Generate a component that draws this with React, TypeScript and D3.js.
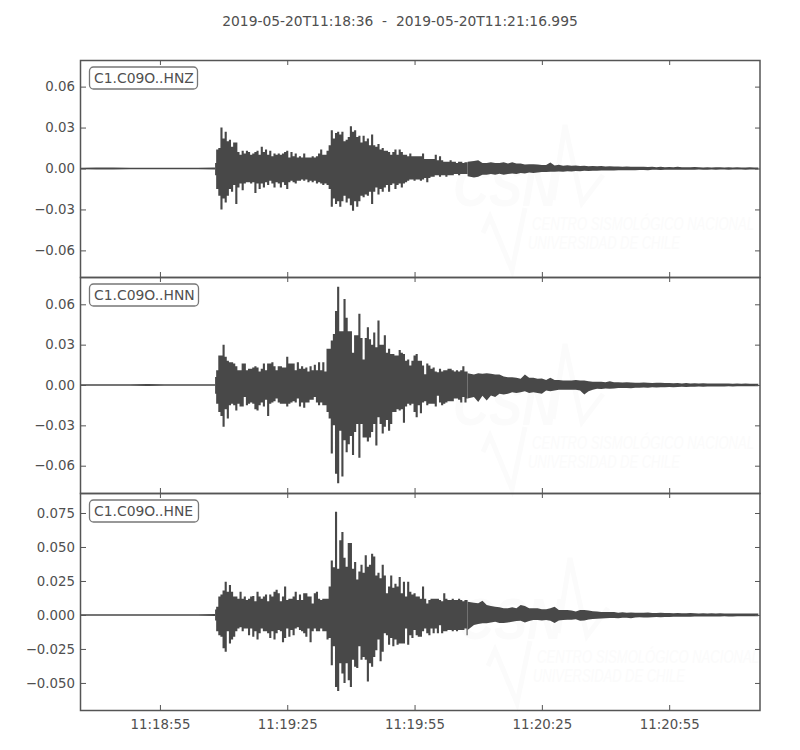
import React, { useEffect, useRef } from "react";
import * as d3 from "d3";

// amplitudes below are in units of 0.001
const titleText = "2019-05-20T11:18:36  -  2019-05-20T11:21:16.995";
const stationLabels = ["C1.C09O..HNZ", "C1.C09O..HNN", "C1.C09O..HNE"];
const timeTicks = ["11:18:55", "11:19:25", "11:19:55", "11:20:25", "11:20:55"];

const yDomains = [[-0.0795, 0.0795], [-0.0803, 0.0803], [-0.0699, 0.0897]];
const yTicks = [
  [-0.06, -0.03, 0, 0.03, 0.06],
  [-0.06, -0.03, 0, 0.03, 0.06],
  [-0.05, -0.025, 0, 0.025, 0.05, 0.075],
];
const yFormats = [".2f", ".2f", ".3f"];

// quiet part before the first arrival, one value every 4 s from 11:18:36
const hnzQuiet = [0.6, 0.7, 0.7, 0.6, 0.5, 0.5, 0.5, 0.6, 0.7];
const hnnQuiet = [0.6, 0.6, 0.5, 0.6, 0.7, 0.5, 0.5, 0.6, 0.6];
const hneQuiet = [0.5, 0.5, 0.5, 0.5, 0.5, 0.6, 0.5, 0.6, 0.7];

// strong motion, one value every 0.5 s from 11:19:08
const hnzUp = [
  4, 14, 15, 30, 22, 27, 20, 21, 16, 19,
  19, 12, 10, 13, 11, 13, 12, 10, 11, 12,
  13, 10, 16, 12, 14, 10, 13, 9, 11, 10,
  11, 10, 11, 12, 13, 8, 12, 9, 11, 8,
  9, 8, 11, 8, 8, 8, 9, 8, 9, 11,
  14, 10, 10, 13, 17, 28, 22, 26, 27, 25,
  27, 20, 21, 23, 31, 27, 28, 23, 24, 19,
  24, 20, 22, 17, 25, 17, 16, 18, 14, 15,
  13, 13, 12, 10, 12, 14, 10, 14, 12, 10,
  10, 9, 11, 9, 9, 9, 9, 9, 11, 7,
  7, 7, 7, 7, 10, 6, 9, 6, 5, 5,
  5, 6, 5, 5, 4, 5, 5, 4, 4.5, 4.5,
];
const hnzLow = [
  5, 15, 20, 30, 22, 25, 20, 15, 17, 12,
  26, 14, 11, 16, 11, 10, 10, 11, 10, 18,
  11, 15, 11, 14, 10, 12, 9, 11, 14, 10,
  11, 14, 10, 12, 15, 10, 9, 10, 11, 9,
  9, 8, 9, 8, 10, 9, 10, 9, 11, 10,
  11, 12, 11, 12, 15, 28, 22, 26, 24, 28,
  24, 20, 25, 22, 27, 31, 24, 28, 24, 20,
  21, 19, 20, 17, 26, 17, 14, 19, 15, 17,
  14, 12, 17, 12, 11, 15, 12, 11, 14, 11,
  10, 9, 8, 8, 9, 8, 8, 9, 8, 7,
  10, 7, 6, 6, 5, 5, 6, 5, 5, 6,
  5, 5, 5, 4, 4, 5, 4, 4, 4, 4,
];
const hnnUp = [
  6, 11, 22, 22, 30, 21, 18, 17, 17, 16,
  14, 11, 11, 16, 16, 11, 12, 12, 13, 14,
  13, 10, 12, 16, 11, 16, 16, 17, 14, 11,
  14, 14, 13, 13, 21, 16, 16, 16, 11, 17,
  12, 14, 12, 13, 10, 14, 11, 15, 11, 17,
  11, 17, 10, 27, 27, 33, 38,
  55, 73, 40, 40, 64, 50, 40, 40, 24, 37,
  37, 53, 35, 19, 35, 43, 34, 30, 39, 28,
  48, 30, 30, 37, 24, 27, 23, 23, 22, 22,
  26, 24, 23, 18, 19, 14.5, 18, 22, 23, 18,
  18, 14.5, 8, 16, 14.5, 12, 13, 10, 9.5, 12,
  10, 11, 11, 12, 12, 11,
  10, 11, 10, 11, 14, 10, 10,
];
const hnnLow = [
  6.5, 14, 20, 23, 31, 18, 25, 15, 14, 15,
  19, 14, 16, 16, 9, 15, 14, 13, 14, 18,
  19, 15, 13, 16, 11, 23, 14, 13, 12, 10,
  13, 14, 14, 14, 16, 14, 13, 12, 13, 10,
  16, 13, 17, 13, 13, 11, 11, 9, 13, 15,
  13, 15, 15, 20, 25, 51, 30,
  66, 73, 34, 68, 41, 50, 44, 38, 52, 35,
  29, 54, 29, 39, 39, 42, 39, 35, 29, 45,
  24, 29, 36, 31, 26, 34, 29, 20, 20, 18,
  19, 18, 28, 16, 14, 15, 14, 20, 24, 15,
  21, 13, 12, 15, 14, 14, 14, 16, 8, 13,
  15, 14, 13, 12, 12, 12,
  10, 10, 11, 13, 9, 13, 10,
];
const hneUp = [
  4, 6, 13.5, 15, 18, 24.5, 17, 22, 17, 13.5,
  13.5, 12, 17, 12, 13.5, 11, 12, 13.5, 14, 10,
  17, 13.5, 12, 13.5, 15, 10, 15, 13.5, 17, 18.5,
  16, 10, 13.5, 21, 11, 12, 12, 13.5, 17, 11,
  15, 11, 16, 16, 13.5, 13.5, 8.5, 16, 17, 12,
  11, 12, 12, 12, 21, 40, 35,
  76, 34, 55, 61, 42, 35.5, 53, 53, 34, 39,
  26, 32, 37, 31, 44, 35.5, 37, 45, 43, 29,
  31, 27, 37, 29, 16, 21, 29, 20, 23, 21,
  28, 16, 24.5, 13.5, 24.5, 17, 15, 16, 13.5, 13.5,
  12, 21, 12, 8.5, 11, 12, 12, 12, 12, 11,
  10, 16, 12, 11, 11, 12,
  11, 11, 12, 11, 10, 11, 11,
];
const hneLow = [
  4, 12, 15, 16, 24.5, 27, 12, 21, 18, 16,
  12, 10, 9, 12, 10, 10, 15, 10, 16, 12,
  18, 13.5, 10, 12, 12, 13.5, 17, 12, 18, 13.5,
  11, 12, 20, 17, 10, 16, 11, 15, 10, 9,
  11, 12, 13.5, 16, 10, 20, 12, 10, 12, 12,
  10, 12, 12, 18, 17, 37, 23,
  53, 56, 35.5, 43, 50, 35.5, 48, 53, 33, 38,
  39, 23, 33, 31, 33, 49, 35.5, 38, 31, 26,
  18, 34, 27, 13.5, 15, 22, 17, 23, 18, 22,
  21, 21, 21, 10, 22, 15, 17, 11, 15, 16,
  16, 12, 10, 13.5, 15, 10, 13.5, 10, 13.5, 7.5,
  13.5, 12, 12, 11, 11, 12,
  11, 12, 11, 11, 11, 10, 15,
];

// coda, one value every 1 s from 11:20:08
const hnzTailUp = [
  5, 5.5, 6, 4, 4, 4.5, 4, 4, 4.5, 3.7,
  4.5, 3.7, 3.7, 3, 3.2, 3.2, 3, 2.5, 2.5, 4.4,
  2.2, 2.8, 2, 2.4, 2, 2.2, 1.8, 2, 1.7, 1.9,
  1.6, 1.8, 1.5, 1.6, 1.4, 1.5, 1.3, 1.4, 1.2, 1.3,
  1.2, 1.2, 1.1, 1.3, 1, 1.2, 1, 1.1, 1, 1.2,
  0.9, 1, 0.9, 1.1, 0.9, 0.8, 1, 0.8, 0.9, 1,
  0.8, 0.9, 0.8, 1, 0.8, 0.8, 0.9, 0.8, 0.8,
];
const hnzTailLow = [
  5.6, 6.6, 6, 4.5, 4.5, 4, 4.5, 3.8, 4.5, 4,
  3.6, 4, 3.3, 3.7, 3, 3.3, 3, 2.6, 2.5, 2.4,
  2.4, 2.2, 2.4, 2, 2.2, 1.8, 2, 1.7, 1.8, 1.6,
  1.6, 1.5, 1.5, 1.4, 1.4, 1.3, 1.3, 1.2, 1.2, 1.2,
  1.1, 1.1, 1.2, 1, 1, 1.1, 1, 0.9, 1, 1,
  0.9, 0.9, 1, 0.9, 0.8, 0.9, 0.9, 0.8, 0.9, 0.8,
  0.8, 0.9, 0.8, 0.8, 0.8, 0.9, 0.8, 0.8, 0.8,
];
const hnnTailUp = [
  8.8, 7.8, 8.8, 8.3, 8.8, 8.3, 7.8, 7.8, 6.3, 5.8,
  5.8, 5.3, 4.6, 7.8, 5.3, 5.3, 4.6, 4.8, 3.8, 5.3,
  3.8, 3.8, 3.3, 3.3, 3.3, 3.8, 3.3, 3.3, 2.8, 2.4,
  2.4, 2.4, 2.1, 2.8, 2.1, 2.1, 1.8, 2, 1.8, 1.7,
  1.6, 1.8, 1.6, 1.5, 1.6, 1.7, 1.4, 1.5, 1.3, 1.4,
  1.2, 1.4, 1.2, 1.3, 1.1, 1.3, 1.2, 1.2, 1.1, 1.2,
  1.1, 1.1, 1, 1.2, 1, 1.1, 1, 1, 1,
];
const hnnTailLow = [
  10, 9, 12.7, 8, 11.5, 7.8, 9, 6.5, 7, 6.5,
  5.3, 6, 5.3, 4.6, 6, 5.3, 6, 6.5, 4, 4.6,
  4, 3.6, 3.6, 3.6, 3.6, 3.6, 4, 7, 4.6, 3.6,
  2.8, 3, 2.6, 2.8, 2.6, 2.3, 2.3, 2.2, 2.4, 2,
  2, 1.8, 2, 1.7, 1.8, 1.6, 1.6, 1.5, 1.6, 1.4,
  1.3, 1.5, 1.3, 1.3, 1.2, 1.3, 1.1, 1.2, 1.1, 1.1,
  1.1, 1, 1.1, 1, 1, 1, 1, 1, 1,
];
const hneTailUp = [
  9.8, 9, 8.6, 10.5, 7.4, 6.6, 6, 5.6, 4.9, 4.9,
  5.6, 4.9, 7.4, 6.6, 4.9, 4.9, 4.9, 4.2, 4.2, 4.9,
  6, 3.7, 3.7, 3.7, 3.2, 2.5, 3.7, 3.7, 3.2, 2.7,
  2.5, 2.2, 2.2, 2.2, 2.2, 1.7, 2, 1.7, 1.9, 1.7,
  1.7, 1.6, 1.8, 1.5, 1.4, 1.6, 1.4, 1.4, 1.3, 1.5,
  1.3, 1.2, 1.4, 1.2, 1.1, 1.3, 1.1, 1.2, 1.1, 1.2,
  1, 1.1, 1, 1.1, 1, 1, 1, 1, 1,
];
const hneTailLow = [
  11, 7.4, 6.6, 6.1, 6.1, 5.5, 5, 6, 6, 5.5,
  5, 4.5, 4.2, 5.6, 4.5, 3.7, 3.7, 4.1, 3.7, 4.2,
  6, 4, 3.7, 3.6, 3.5, 3.2, 4.2, 4, 3.4, 3,
  2.8, 2.6, 2.4, 2.3, 2.2, 2.4, 2.1, 2, 2.4, 1.9,
  1.7, 1.8, 1.9, 1.6, 1.5, 1.6, 1.5, 1.5, 1.4, 1.3,
  1.3, 1.4, 1.3, 1.2, 1.2, 1.2, 1.1, 1.2, 1.1, 1.1,
  1, 1.1, 1.1, 1, 1, 1, 1, 1, 1,
];

const quiet = [hnzQuiet, hnnQuiet, hneQuiet];
const ups = [hnzUp, hnnUp, hneUp];
const lows = [hnzLow, hnnLow, hneLow];
const tailUps = [hnzTailUp, hnnTailUp, hneTailUp];
const tailLows = [hnzTailLow, hnnTailLow, hneTailLow];

const ink = "#484848";
const textInk = "#505050";
const markInk = "#fbfbfb";
const font = "'DejaVu Sans', sans-serif";
const panelTops = [60, 277, 493];
const panelBottoms = [277, 493, 710];
const left = 81;
const right = 760;

const at = (sec: number) => new Date(Date.UTC(2019, 4, 20, 11, 18, 36) + sec * 1000);
const parseTick = (s: string) => new Date(`2019-05-20T${s}Z`);

const drawChart = (node: SVGSVGElement) => {
  const svg = d3.select(node);
  svg.selectAll("*").remove();

  const x = d3.scaleUtc().domain([at(0.4), at(160.4)]).range([left, right]);

  svg
    .append("text")
    .attr("x", 400)
    .attr("y", 26)
    .attr("text-anchor", "middle")
    .style("white-space", "pre")
    .attr("fill", textInk)
    .attr("font-family", font)
    .attr("font-size", 13.85)
    .text(titleText);

  svg
    .append("defs")
    .selectAll("clipPath")
    .data(panelTops)
    .join("clipPath")
    .attr("id", (_, i) => `panel${i}`)
    .append("rect")
    .attr("x", left)
    .attr("y", (d) => d)
    .attr("width", right - left)
    .attr("height", (_, i) => panelBottoms[i] - panelTops[i]);

  // squeezes a watermark text to the width it has in the picture
  const squeezed = (
    parent: d3.Selection<SVGGElement, unknown, null, undefined>,
    t: string,
    tx: number,
    ty: number,
    width: number,
    size: number,
    weight: string
  ) => {
    const el = parent
      .append("text")
      .attr("font-family", "'Liberation Sans', sans-serif")
      .attr("font-style", "italic")
      .attr("font-weight", weight)
      .attr("font-size", size)
      .attr("fill", markInk)
      .text(t);
    const natural = (el.node() as SVGTextElement).getComputedTextLength();
    el.attr("transform", `translate(${tx},${ty}) scale(${width / natural},1)`);
  };

  panelTops.forEach((top, p) => {
    const bottom = panelBottoms[p];
    const y = d3.scaleLinear().domain(yDomains[p]).range([bottom, top]);
    const g = svg.append("g");

    // faint agency watermark behind the trace
    const mark = g
      .append("g")
      .attr("transform", `translate(${p === 2 ? 5 : 0},${top - 60 + (p === 1 ? 2 : 0)})`);
    squeezed(mark, "CSN", 453, 206, 105, 57, "bold");
    mark
      .append("path")
      .attr("d", "M553 200L565 125L582 203L603 175M483 233L490 217L512 270L525 208")
      .attr("fill", "none")
      .attr("stroke", markInk)
      .attr("stroke-width", 5);
    squeezed(mark, "CENTRO SISMOLÓGICO NACIONAL", 532, 230, 222, 18, "normal");
    squeezed(mark, "UNIVERSIDAD DE CHILE", 528, 249, 152, 18, "normal");

    const plot = g.append("g").attr("clip-path", `url(#panel${p})`);

    // before the arrival
    const quietBand = d3
      .area<number>()
      .x((_, i) => x(at(i * 4)))
      .y0((d) => y(-d * 0.001))
      .y1((d) => y(d * 0.001));
    plot.append("path").attr("d", quietBand(quiet[p])).attr("fill", ink);

    // strong motion as a stepped min/max envelope
    const strong = d3
      .area<number>()
      .curve(d3.curveStep)
      .x((_, i) => x(at(32 + i * 0.5)))
      .y0((d, i) => y(-(lows[p][i] ?? d) * 0.001))
      .y1((d) => y(d * 0.001));
    plot.append("path").attr("d", strong(ups[p])).attr("fill", ink);

    // coda, its first point joins the last strong motion sample
    const tail = d3
      .area<number>()
      .x((_, i) => x(at(i === 0 ? 91.5 : 92 + i)))
      .y0((_, i) => y(-tailLows[p][i] * 0.001))
      .y1((d) => y(d * 0.001));
    plot.append("path").attr("d", tail(tailUps[p])).attr("fill", ink);

    // axes, all ticks point inward like the old matplotlib style
    const tv = timeTicks.map(parseTick);
    const styleAxis = (a: d3.Selection<SVGGElement, unknown, null, undefined>) => {
      a.select(".domain").remove();
      a.selectAll("line").attr("stroke", "#555").attr("stroke-width", 1);
      a.selectAll("text").attr("fill", textInk).attr("font-family", font).attr("font-size", 13.33);
    };
    const yFmt = d3.format(yFormats[p]);
    g.append("g")
      .attr("transform", `translate(${left},0)`)
      .call(
        d3
          .axisLeft(y)
          .tickValues(yTicks[p])
          .tickSizeInner(-5)
          .tickPadding(6)
          .tickFormat((d) => yFmt(d as number))
      )
      .call(styleAxis);
    g.append("g")
      .attr("transform", `translate(${right},0)`)
      .call(d3.axisRight(y).tickValues(yTicks[p]).tickSizeInner(-5).tickFormat(() => ""))
      .call(styleAxis);
    g.append("g")
      .attr("transform", `translate(0,${top})`)
      .call(d3.axisTop(x).tickValues(tv).tickSizeInner(-5).tickFormat(() => ""))
      .call(styleAxis);
    g.append("g")
      .attr("transform", `translate(0,${bottom})`)
      .call(
        d3
          .axisBottom(x)
          .tickValues(tv)
          .tickSizeInner(-5)
          .tickPadding(10)
          .tickFormat((d) => (p === 2 ? d3.utcFormat("%H:%M:%S")(d as Date) : ""))
      )
      .call(styleAxis);

    g.append("rect")
      .attr("x", left - 0.5)
      .attr("y", top + 0.5)
      .attr("width", right - left + 0.5)
      .attr("height", bottom - top)
      .attr("fill", "none")
      .attr("stroke", "#555")
      .attr("stroke-width", 1.5);

    // station label
    g.append("rect")
      .attr("x", 89.5)
      .attr("y", top + 7)
      .attr("width", p === 0 ? 108 : 109)
      .attr("height", 22)
      .attr("rx", 4)
      .attr("fill", "#fff")
      .attr("stroke", "#777")
      .attr("stroke-width", 1.3);
    g.append("text")
      .attr("x", 94)
      .attr("y", top + 22.5)
      .attr("fill", textInk)
      .attr("font-family", font)
      .attr("font-size", 13.9)
      .text(stationLabels[p]);
  });
};

const App = () => {
  const ref = useRef<SVGSVGElement>(null);
  useEffect(() => {
    if (ref.current) drawChart(ref.current);
  }, []);
  return (
    <svg
      ref={ref}
      width={800}
      height={750}
      style={{ position: "absolute", left: 0, top: 0, background: "#fff" }}
    ></svg>
  );
};

export default App;
